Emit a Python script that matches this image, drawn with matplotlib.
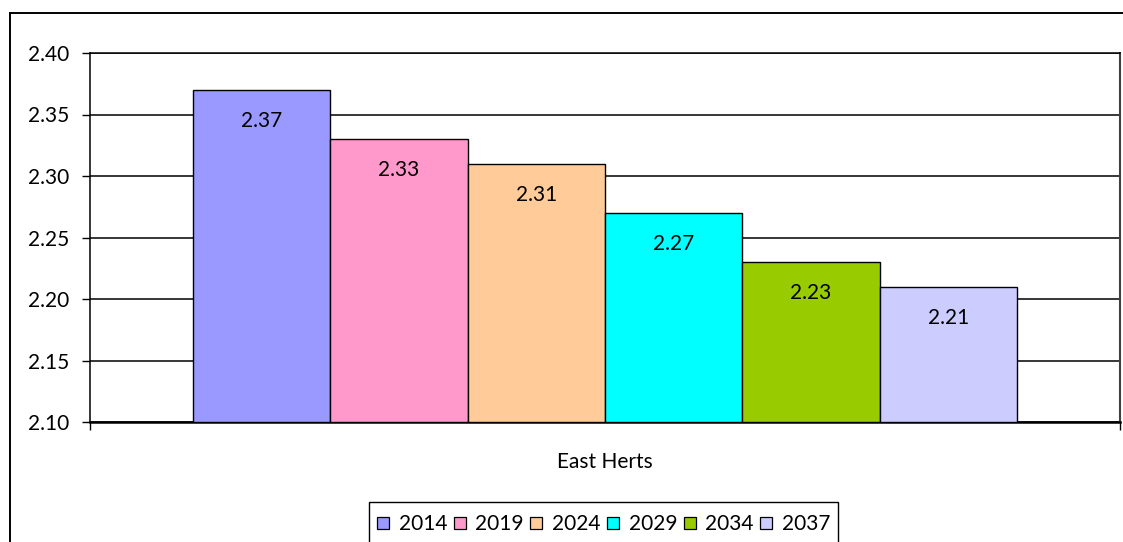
import matplotlib
matplotlib.use("Agg")
import matplotlib.pyplot as plt
from matplotlib.lines import Line2D
from matplotlib.patches import Rectangle

plt.rcParams['font.family'] = ['Lato', 'DejaVu Sans']

category = "East Herts"
years = ["2014", "2019", "2024", "2029", "2034", "2037"]
values = [2.37, 2.33, 2.31, 2.27, 2.23, 2.21]
colors = ["#9999FF", "#FF99CC", "#FFCC99", "#00FFFF", "#99CC00", "#CCCCFF"]
yticks = [2.10, 2.15, 2.20, 2.25, 2.30, 2.35, 2.40]

W, H = 1123, 542
fig = plt.figure(figsize=(W / 100, H / 100), dpi=100)
fs = 15

ax = fig.add_axes([90 / W, 1 - 422 / H, (1120 - 90) / W, (422 - 53) / H])

n = len(values)
group = 0.8
bw = group / n
for i, (v, c, y) in enumerate(zip(values, colors, years)):
    xc = -group / 2 + (i + 0.5) * bw
    ax.bar(xc, v - 2.10, bottom=2.10, width=bw, color=c, edgecolor="black",
           linewidth=1.0, zorder=3, label=y)
    ax.annotate(f"{v:.2f}", (xc, v), xytext=(0, -22.5), textcoords="offset points",
                ha="center", va="center", fontsize=fs, zorder=4)

ax.set_xlim(-0.5, 0.5)
ax.set_ylim(2.10, 2.40)
ax.set_yticks(yticks)
ax.set_yticklabels([f"{t:.2f}" for t in yticks], fontsize=fs)
ax.set_xticks([-0.5, 0.5])
ax.set_xticklabels(["", ""])
ax.tick_params(axis="both", direction="out", length=6, width=1.0, pad=9, color="black")
ax.yaxis.grid(True, color="black", linewidth=1.1, zorder=0)
ax.set_axisbelow(True)
for s in ["left", "bottom", "top"]:
    ax.spines[s].set_color("black")
    ax.spines[s].set_linewidth(1.1)
ax.spines["right"].set_color("#404040")
ax.spines["right"].set_linewidth(1.5)
ax.spines["bottom"].set_linewidth(1.8)

fig.text(605 / W, 1 - 462 / H, category, ha="center", va="center", fontsize=fs)

# outer chart frame (partially visible)
fig.add_artist(Line2D([9.5 / W, 1.0], [1 - 13 / H, 1 - 13 / H], transform=fig.transFigure,
                      color="black", linewidth=1.4))
fig.add_artist(Line2D([9.5 / W, 9.5 / W], [1 - 13 / H, 0.0], transform=fig.transFigure,
                      color="black", linewidth=1.4))

# legend box (extends beyond bottom)
fig.add_artist(Rectangle((369 / W, -0.05), (838 - 369) / W, (1 - 502 / H) + 0.05,
                         transform=fig.transFigure, facecolor="white", edgecolor="black",
                         linewidth=1.0))
handles = [Line2D([], [], marker="s", linestyle="none", markersize=8.6,
                  markerfacecolor=c, markeredgecolor="black", markeredgewidth=0.9)
           for c in colors]
fig.legend(handles, years, loc="center", bbox_to_anchor=(603.5 / W, 1 - 524 / H),
           ncol=n, frameon=False, fontsize=fs, handlelength=0.6, handletextpad=0.45,
           columnspacing=0.3, borderpad=0.2)

fig.savefig("out.png", dpi=100)
